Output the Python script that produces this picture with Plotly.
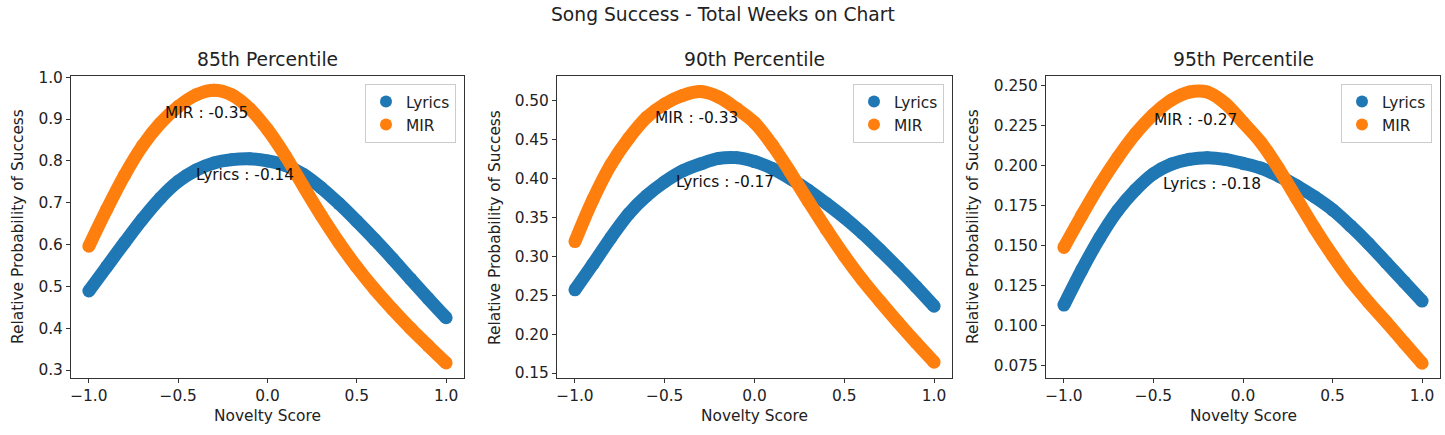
import plotly.graph_objects as go

# ---------------- data ----------------
novelty = [-1.0, -0.9, -0.8, -0.7, -0.6, -0.5, -0.4, -0.3, -0.2, -0.1, 0.0,
           0.1, 0.2, 0.3, 0.4, 0.5, 0.6, 0.7, 0.8, 0.9, 1.0]

p85_lyrics = [0.489, 0.547, 0.605, 0.661, 0.711, 0.751, 0.778, 0.795, 0.803, 0.805, 0.800,
              0.789, 0.768, 0.736, 0.698, 0.656, 0.612, 0.566, 0.518, 0.471, 0.425]
p85_mir = [0.596, 0.684, 0.766, 0.836, 0.890, 0.930, 0.958, 0.969, 0.958, 0.925, 0.875,
           0.812, 0.740, 0.670, 0.605, 0.546, 0.493, 0.445, 0.400, 0.358, 0.317]

p90_lyrics = [0.257, 0.290, 0.324, 0.355, 0.378, 0.396, 0.410, 0.419, 0.426, 0.427, 0.422,
              0.413, 0.400, 0.385, 0.368, 0.350, 0.330, 0.308, 0.285, 0.261, 0.236]
p90_mir = [0.319, 0.373, 0.418, 0.452, 0.479, 0.496, 0.507, 0.512, 0.505, 0.490, 0.472,
           0.443, 0.408, 0.371, 0.335, 0.301, 0.270, 0.242, 0.215, 0.189, 0.164]

p95_lyrics = [0.113, 0.135, 0.155, 0.172, 0.185, 0.195, 0.201, 0.204, 0.205, 0.204, 0.2015,
              0.1985, 0.1935, 0.1875, 0.1805, 0.1725, 0.1625, 0.1515, 0.1395, 0.1275, 0.1155]
p95_mir = [0.149, 0.169, 0.188, 0.205, 0.220, 0.232, 0.241, 0.246, 0.246, 0.239, 0.227,
           0.2145, 0.198, 0.1795, 0.161, 0.144, 0.1285, 0.115, 0.1025, 0.0895, 0.0767]

panel_titles = ["85th Percentile", "90th Percentile", "95th Percentile"]
series_names = ["Lyrics", "MIR"]
peak_labels = [("MIR : -0.35", "Lyrics : -0.14"),
               ("MIR : -0.33", "Lyrics : -0.17"),
               ("MIR : -0.27", "Lyrics : -0.18")]

x_tickvals = [-1.0, -0.5, 0.0, 0.5, 1.0]
x_ticktext = ["\u22121.0", "\u22120.5", "0.0", "0.5", "1.0"]

y_tickvals_85 = [0.3, 0.4, 0.5, 0.6, 0.7, 0.8, 0.9, 1.0]
y_ticktext_85 = ["0.3", "0.4", "0.5", "0.6", "0.7", "0.8", "0.9", "1.0"]
y_tickvals_90 = [0.15, 0.20, 0.25, 0.30, 0.35, 0.40, 0.45, 0.50]
y_ticktext_90 = ["0.15", "0.20", "0.25", "0.30", "0.35", "0.40", "0.45", "0.50"]
y_tickvals_95 = [0.075, 0.100, 0.125, 0.150, 0.175, 0.200, 0.225, 0.250]
y_ticktext_95 = ["0.075", "0.100", "0.125", "0.150", "0.175", "0.200", "0.225", "0.250"]

# ---------------- layout / styling ----------------
W, H = 1445, 435
FONT = "DejaVu Sans"
TXT = "#222222"
AX = "#333333"
BLUE = "#1f77b4"
ORANGE = "#ff7f0e"
F_SMALL = 15.4
F_TITLE = 18.7


def px_x(v):
    return v / W


def px_y(v):
    return 1 - v / H


panels = [
    dict(lyr=p85_lyrics, mir=p85_mir, px=(71, 464), yr=[0.281, 1.003],
         tv=y_tickvals_85, tt=y_ticktext_85, ylab_x=18,
         mir_txt=(-0.585, 0.9146), lyr_txt=(-0.412, 0.766)),
    dict(lyr=p90_lyrics, mir=p90_mir, px=(557, 952), yr=[0.1436, 0.532],
         tv=y_tickvals_90, tt=y_ticktext_90, ylab_x=495,
         mir_txt=(-0.563, 0.478), lyr_txt=(-0.451, 0.396)),
    dict(lyr=p95_lyrics, mir=p95_mir, px=(1046, 1440), yr=[0.0675, 0.256],
         tv=y_tickvals_95, tt=y_ticktext_95, ylab_x=973,
         mir_txt=(-0.508, 0.2286), lyr_txt=(-0.458, 0.1886)),
]

top_px, bot_px = 76, 378
ydom = [px_y(bot_px), px_y(top_px)]

fig = go.Figure()
annotations = []
layout_extra = {}

for i, p in enumerate(panels):
    n = "" if i == 0 else str(i + 1)
    xa, ya = "x" + n, "y" + n
    leg = "legend" + n
    for name, vals, col in ((series_names[0], p["lyr"], BLUE), (series_names[1], p["mir"], ORANGE)):
        fig.add_trace(go.Scatter(
            x=novelty, y=vals, mode="lines",
            line=dict(color=col, width=13, shape="spline", smoothing=1.0),
            xaxis=xa, yaxis=ya, showlegend=False, hoverinfo="skip", legendgroup=name + n))
        fig.add_trace(go.Scatter(
            x=novelty, y=vals, mode="markers", name=name,
            marker=dict(color=col, size=13, line=dict(width=0)),
            xaxis=xa, yaxis=ya, legend=leg, legendgroup=name + n))

    xdom = [px_x(p["px"][0]), px_x(p["px"][1])]
    axis_common = dict(showline=True, linecolor=AX, linewidth=1, mirror=True,
                       ticks="outside", ticklen=4, tickwidth=1, tickcolor=AX,
                       showgrid=False, zeroline=False,
                       tickfont=dict(family=FONT, size=F_SMALL, color=TXT))
    layout_extra["xaxis" + n] = dict(domain=xdom, range=[-1.1, 1.1], anchor=ya,
                                     tickvals=x_tickvals, ticktext=x_ticktext, **axis_common)
    layout_extra["yaxis" + n] = dict(domain=ydom, range=p["yr"], anchor=xa,
                                     tickvals=p["tv"], ticktext=p["tt"], **axis_common)
    layout_extra[leg] = dict(x=px_x(p["px"][1] - 8), xanchor="right", y=px_y(84), yanchor="top",
                             xref="paper", yref="paper",
                             bgcolor="rgba(255,255,255,0.8)", bordercolor="#cccccc", borderwidth=1,
                             font=dict(family=FONT, size=F_SMALL, color=TXT),
                             itemsizing="constant", tracegroupgap=0)

    cx = px_x((p["px"][0] + p["px"][1]) / 2)
    annotations.append(dict(text=panel_titles[i], x=cx, y=px_y(59), xref="paper", yref="paper",
                            showarrow=False, xanchor="center", yanchor="middle",
                            font=dict(family=FONT, size=F_TITLE, color=TXT)))
    annotations.append(dict(text="Novelty Score", x=cx, y=px_y(416), xref="paper", yref="paper",
                            showarrow=False, xanchor="center", yanchor="middle",
                            font=dict(family=FONT, size=F_SMALL, color=TXT)))
    annotations.append(dict(text="Relative Probability of Success", x=px_x(p["ylab_x"]), y=px_y(227),
                            xref="paper", yref="paper", textangle=-90,
                            showarrow=False, xanchor="center", yanchor="middle",
                            font=dict(family=FONT, size=F_SMALL, color=TXT)))
    annotations.append(dict(text=peak_labels[i][0], x=p["mir_txt"][0], y=p["mir_txt"][1],
                            xref=xa, yref=ya, showarrow=False, xanchor="left", yanchor="middle",
                            font=dict(family=FONT, size=F_SMALL, color="#111111")))
    annotations.append(dict(text=peak_labels[i][1], x=p["lyr_txt"][0], y=p["lyr_txt"][1],
                            xref=xa, yref=ya, showarrow=False, xanchor="left", yanchor="middle",
                            font=dict(family=FONT, size=F_SMALL, color="#111111")))

annotations.append(dict(text="Song Success - Total Weeks on Chart", x=px_x(722.5), y=px_y(15),
                        xref="paper", yref="paper", showarrow=False, xanchor="center", yanchor="middle",
                        font=dict(family=FONT, size=F_TITLE, color=TXT)))

fig.update_layout(width=W, height=H, margin=dict(l=0, r=0, t=0, b=0, autoexpand=False),
                  paper_bgcolor="white", plot_bgcolor="white",
                  font=dict(family=FONT, color=TXT),
                  annotations=annotations, **layout_extra)

fig.write_html("out.html", config={"displayModeBar": False},
               post_script="document.body.style.margin='0px';document.body.style.padding='0px';")
